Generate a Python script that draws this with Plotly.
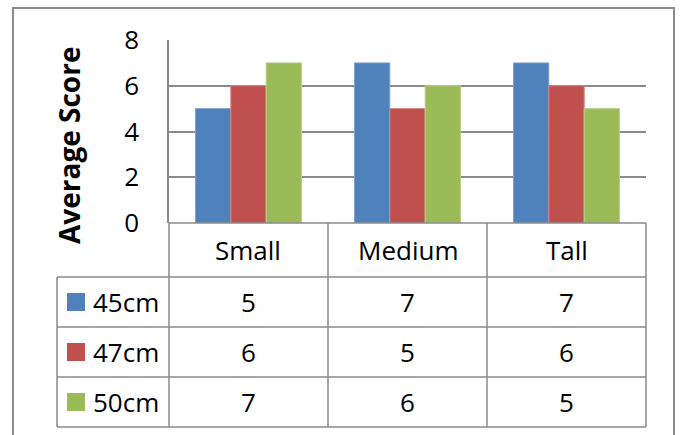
import plotly.graph_objects as go

# Chart data
categories = ["Small", "Medium", "Tall"]
series_names = ["45cm", "47cm", "50cm"]
scores_45 = [5, 7, 7]
scores_47 = [6, 5, 6]
scores_50 = [7, 6, 5]
y_ticks = [0, 2, 4, 6, 8]

series_values = [scores_45, scores_47, scores_50]
colors = ["#4F81BD", "#C0504D", "#9BBB59"]
edges = ["#7FA3D0", "#D68280", "#B8D08A"]

W, H = 680, 435
FONT = "Open Sans"
GRID = "#8A8A8A"
TXT = 26


def px(x):
    return x / W


def py(y):
    return 1 - y / H


# plot area in pixels
PL, PR, PT, PB = 169, 646, 40, 223
# data table rows (pixels)
ROW_EDGES = [223, 277, 327, 377, 427]
LEG_L = 57

fig = go.Figure()
for name, vals, c, e in zip(series_names, series_values, colors, edges):
    fig.add_trace(go.Bar(
        x=categories, y=vals, name=name,
        marker=dict(color=c, line=dict(color=e, width=1)),
    ))

fig.update_layout(
    width=W, height=H,
    margin=dict(l=0, r=0, t=0, b=0, autoexpand=False),
    paper_bgcolor="white", plot_bgcolor="white",
    showlegend=False,
    barmode="group", bargap=0.333, bargroupgap=0,
    font=dict(family=FONT, size=TXT, color="#000000"),
    xaxis=dict(
        domain=[px(PL), px(PR)], automargin=False,
        showticklabels=False, showgrid=False, zeroline=False,
        showline=False, ticks="",
    ),
    yaxis=dict(
        domain=[py(PB), py(PT)], automargin=False,
        range=[0, 8], tickvals=y_ticks,
        showgrid=True, gridcolor=GRID, gridwidth=1.5,
        zeroline=False,
        showline=True, linecolor=GRID, linewidth=1.5,
        ticks="outside", ticklen=23, tickcolor="rgba(0,0,0,0)",
        tickfont=dict(family=FONT, size=TXT, color="#000000"),
    ),
)

shapes = []
line = dict(color=GRID, width=1.5)

# outer chart border (bottom edge runs off the page)
shapes.append(dict(type="rect", xref="paper", yref="paper",
                   x0=px(13), x1=px(674), y0=py(8), y1=py(445),
                   line=dict(color="#8C8C8C", width=2)))

# data table horizontal rules
shapes.append(dict(type="line", xref="paper", yref="paper",
                   x0=px(PL), x1=px(PR), y0=py(ROW_EDGES[0]), y1=py(ROW_EDGES[0]), line=line))
for ry in ROW_EDGES[1:]:
    shapes.append(dict(type="line", xref="paper", yref="paper",
                       x0=px(LEG_L), x1=px(PR), y0=py(ry), y1=py(ry), line=line))

# data table vertical rules
col_w = (PR - PL) / len(categories)
col_edges = [PL + i * col_w for i in range(len(categories) + 1)]
for cx in col_edges:
    shapes.append(dict(type="line", xref="paper", yref="paper",
                       x0=px(cx), x1=px(cx), y0=py(ROW_EDGES[0]), y1=py(ROW_EDGES[-1]), line=line))
shapes.append(dict(type="line", xref="paper", yref="paper",
                   x0=px(LEG_L), x1=px(LEG_L), y0=py(ROW_EDGES[1]), y1=py(ROW_EDGES[-1]), line=line))

annotations = []
# category header row
for i, cat in enumerate(categories):
    cx = PL + (i + 0.5) * col_w
    annotations.append(dict(xref="paper", yref="paper", x=px(cx),
                            y=py((ROW_EDGES[0] + ROW_EDGES[1]) / 2),
                            text=cat, showarrow=False, xanchor="center", yanchor="middle",
                            font=dict(family=FONT, size=TXT, color="#000000")))

# series rows: legend key, name and values
for r, (name, vals, c) in enumerate(zip(series_names, series_values, colors)):
    cy = (ROW_EDGES[r + 1] + ROW_EDGES[r + 2]) / 2
    shapes.append(dict(type="rect", xref="paper", yref="paper",
                       x0=px(67), x1=px(85), y0=py(cy - 9), y1=py(cy + 9),
                       fillcolor=c, line=dict(width=0)))
    annotations.append(dict(xref="paper", yref="paper", x=px(91), y=py(cy),
                            text=name, showarrow=False, xanchor="left", yanchor="middle",
                            font=dict(family=FONT, size=TXT, color="#000000")))
    for i, v in enumerate(vals):
        cx = PL + (i + 0.5) * col_w
        annotations.append(dict(xref="paper", yref="paper", x=px(cx), y=py(cy),
                                text=str(v), showarrow=False, xanchor="center", yanchor="middle",
                                font=dict(family=FONT, size=TXT, color="#000000")))

# value axis title
annotations.append(dict(xref="paper", yref="paper", x=px(69), y=py(146),
                        text="<b>Average Score</b>", textangle=-90, showarrow=False,
                        xanchor="center", yanchor="middle",
                        font=dict(family=FONT, size=28, color="#000000")))

fig.update_layout(shapes=shapes, annotations=annotations)
fig.write_html("out.html")
